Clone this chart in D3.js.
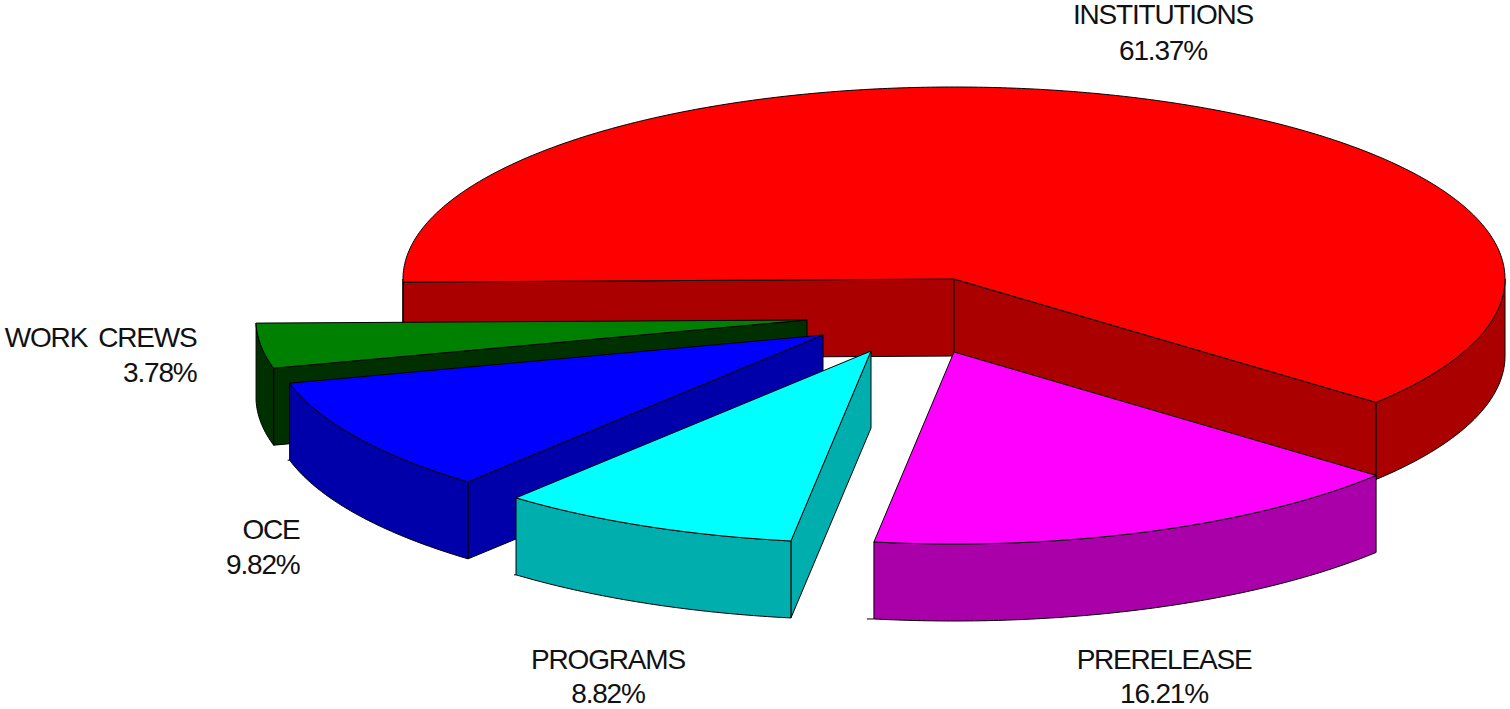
<!DOCTYPE html>
<html>
<head>
<meta charset="utf-8">
<style>
	html, body { margin: 0; padding: 0; background: #fff; overflow: hidden; }
	text { font-family: "Liberation Sans", Arial, sans-serif; font-size: 28px; fill: #111; letter-spacing: -1.2px; word-spacing: -1px; }
</style>
<script src="https://cdnjs.cloudflare.com/ajax/libs/d3/7.8.5/d3.min.js"></script>
</head>
<body>
<div id="chart-area"></div>
<script>
// data, in pie order going clockwise from the prerelease slice
const categories = ["PRERELEASE", "PROGRAMS", "OCE", "WORK  CREWS", "INSTITUTIONS"];
const shares = [16.21, 8.82, 9.82, 3.78, 61.37];

// colours
const topColors = ["#ff00ff", "#00ffff", "#0000ff", "#008000", "#ff0000"];
const wallColors = ["#aa00aa", "#00aeae", "#0000aa", "#003000", "#aa0000"];

// layout: where each slice's apex ended up after exploding it
const apexX = [954, 871, 823, 807, 954];
const apexY = [352, 351, 335, 320, 279];
const labelX = [1164, 608, 299.5, 196.5, 1163];
const labelY = [669, 669, 539, 347, 24];
const percentY = [703, 703, 574, 382, 60];
const labelAnchor = ["middle", "middle", "end", "end", "middle"];
// the bottom rim line overshoots the wall a little on some slices
const rimTick = [7, 2, 2, 0, 0];

const chartWidth = 1510;
const chartHeight = 709;
const depth = 77;
const radiusX = 551;
const radiusY = 192;

let svg = d3.select("#chart-area").append("svg")
	.attr("width", chartWidth)
	.attr("height", chartHeight)
	.style("display", "block");

const x = d3.scaleLinear().domain([-1, 1]).range([-radiusX, radiusX]);
const y = d3.scaleLinear().domain([-1, 1]).range([-radiusY, radiusY]);

// d3.pie angles run clockwise from north, first slice starts 40 deg below east
const toRad = Math.PI / 180;
const pie = d3.pie().sort(null)
	.startAngle(130 * toRad)
	.endAngle(490 * toRad);
const slices = pie(shares);

const line = d3.line();

function rimPoint(i, angle, drop) {
	return [
		apexX[i] + x(Math.sin(angle)),
		apexY[i] + y(-Math.cos(angle)) + drop
	];
}

function rimPoints(i, a0, a1, drop) {
	const n = Math.max(2, Math.ceil(Math.abs(a1 - a0) / (0.5 * toRad)));
	return d3.range(n + 1).map(k => rimPoint(i, a0 + (a1 - a0) * k / n, drop));
}

function drawShape(points, color) {
	svg.append("path")
		.attr("d", line(points) + "Z")
		.attr("fill", color)
		.attr("stroke", "#000")
		.attr("stroke-width", 1)
		.attr("stroke-linejoin", "round");
}

// back to front
d3.range(slices.length - 1, -1, -1).forEach(i => {
	const s = slices[i];
	const apex = [apexX[i], apexY[i]];
	const apexLow = [apexX[i], apexY[i] + depth];

	// cut faces, only the ones turned towards the viewer
	[[s.startAngle, Math.sin(s.startAngle) < 0], [s.endAngle, Math.sin(s.endAngle) > 0]].forEach(cut => {
		if (!cut[1]) return;
		drawShape([apex, rimPoint(i, cut[0], 0), rimPoint(i, cut[0], depth), apexLow], wallColors[i]);
	});

	// outer wall, the front half of the rim (d3 angle 90..270, +360 turn)
	[[90, 270], [450, 630]].forEach(r => {
		const a0 = Math.max(s.startAngle, r[0] * toRad);
		const a1 = Math.min(s.endAngle, r[1] * toRad);
		if (a1 <= a0) return;
		drawShape(rimPoints(i, a0, a1, 0).concat(rimPoints(i, a1, a0, depth)), wallColors[i]);
	});

	if (rimTick[i] > 0) {
		const corner = rimPoint(i, s.endAngle, depth);
		svg.append("path")
			.attr("d", line([corner, [corner[0] - rimTick[i], corner[1]]]))
			.attr("stroke", "#000")
			.attr("stroke-width", 1);
	}

	// top face
	drawShape([apex].concat(rimPoints(i, s.startAngle, s.endAngle, 0)), topColors[i]);
});

// labels
categories.forEach((name, i) => {
	const label = svg.append("text")
		.attr("text-anchor", labelAnchor[i]);
	label.append("tspan")
		.attr("x", labelX[i])
		.attr("y", labelY[i])
		.style("white-space", "pre")
		.text(name);
	label.append("tspan")
		.attr("x", labelX[i])
		.attr("y", percentY[i])
		.text(d3.format(".2f")(shares[i]) + "%");
});
</script>
</body>
</html>
